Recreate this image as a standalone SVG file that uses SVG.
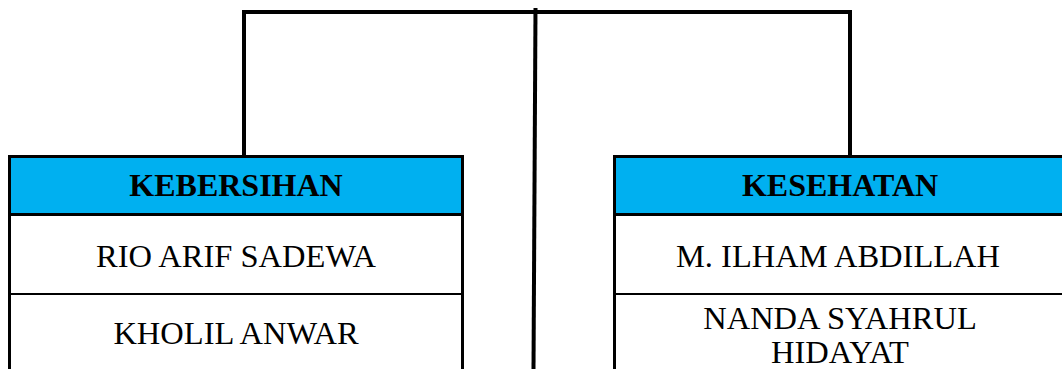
<svg xmlns="http://www.w3.org/2000/svg" width="1062" height="369" viewBox="0 0 1062 369">
<style>
.hdr{fill:#00B0F0;stroke:#000;stroke-width:3}
.cell{fill:#fff;stroke:#000;stroke-width:2}
.vb{stroke:#000;stroke-width:3;fill:none}
.ln{stroke:#000;stroke-width:4;fill:none}
.t{font-family:"Liberation Serif","Times New Roman",serif;font-size:32.5px;fill:#000;text-anchor:middle}
.b{font-weight:bold;font-size:32px}
</style>
<rect width="1062" height="369" fill="#fff"/>
<g id="connectors">
<polyline class="ln" points="244,157 244,12 850,12 850,157"/>
<line class="ln" x1="535.5" y1="8" x2="533.5" y2="369"/>
</g>
<g id="kebersihan">
<rect class="cell" x="9.5" y="214.5" width="453" height="79.5"/>
<rect class="cell" x="9.5" y="294" width="453" height="90"/>
<rect class="hdr" x="9.5" y="156.5" width="453" height="58"/>
<line class="vb" x1="9.5" y1="156.5" x2="9.5" y2="369"/>
<line class="vb" x1="462.5" y1="156.5" x2="462.5" y2="369"/>
<text class="t b" x="236" y="196">KEBERSIHAN</text>
<text class="t" x="236" y="267">RIO ARIF SADEWA</text>
<text class="t" x="236" y="344">KHOLIL ANWAR</text>
</g>
<g id="kesehatan">
<rect class="cell" x="614.5" y="214.5" width="453" height="79.5"/>
<rect class="cell" x="614.5" y="294" width="453" height="90"/>
<rect class="hdr" x="614.5" y="156.5" width="453" height="58"/>
<line class="vb" x1="614.5" y1="156.5" x2="614.5" y2="369"/>
<text class="t b" x="840" y="196">KESEHATAN</text>
<text class="t" x="838" y="267">M. ILHAM ABDILLAH</text>
<text class="t" x="840" y="329">NANDA SYAHRUL</text>
<text class="t" x="840" y="363">HIDAYAT</text>
</g>
</svg>
